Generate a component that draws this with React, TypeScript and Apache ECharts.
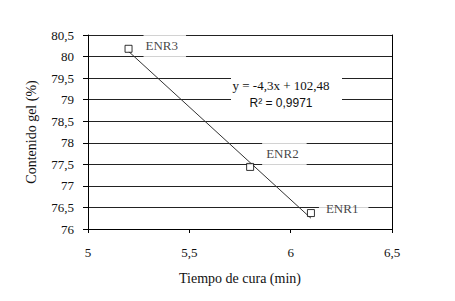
import React, { useEffect, useRef } from "react";
import * as echarts from "echarts";

const pointNames = ["ENR3", "ENR2", "ENR1"];
const cureTime = [5.2, 5.8, 6.1];
const gelContent = [80.18, 77.44, 76.37];
const trendX = [5.2, 6.1];
const trendY = [80.12, 76.25];
const equationText = "y = -4,3x + 102,48";
const r2Text = "R² = 0,9971";

const serif = "'Liberation Serif', 'Times New Roman', serif";
const comma = (v: number) => String(v).replace(".", ",");

export default function App() {
  const ref = useRef<HTMLDivElement>(null);
  useEffect(() => {
    document.body.style.margin = "0";
    const chart = echarts.init(ref.current!, null, { renderer: "svg" });
    const labelCfgs = [
      { position: "right", distance: 11, offset: [0, -3], padding: [10, 8, 9, 2] },
      { position: "right", distance: 8, offset: [0, -13], padding: [10, 8, 10, 4] },
      { position: "right", distance: 4, offset: [0, -5], padding: [4, 10, 4, 7] },
    ];
    chart.setOption({
      animation: false,
      grid: { left: 88, right: 63, top: 35, bottom: 72 },
      xAxis: {
        type: "value",
        min: 5,
        max: 6.5,
        interval: 0.5,
        name: "Tiempo de cura (min)",
        nameLocation: "middle",
        nameGap: 42,
        nameTextStyle: { fontFamily: serif, fontSize: 14, color: "#111" },
        axisLine: { show: true, lineStyle: { color: "#000", width: 1 } },
        axisTick: { show: true, length: 4, lineStyle: { color: "#000" } },
        axisLabel: { formatter: comma, fontFamily: serif, fontSize: 13, color: "#111", margin: 17 },
        splitLine: { show: false },
      },
      yAxis: [
        {
          type: "value",
          min: 76,
          max: 80.5,
          interval: 0.5,
          name: "Contenido gel (%)",
          nameLocation: "middle",
          nameGap: 50,
          nameTextStyle: { fontFamily: serif, fontSize: 14, color: "#111" },
          axisLine: { show: true, lineStyle: { color: "#000", width: 1 } },
          axisTick: { show: true, length: 5, lineStyle: { color: "#000" } },
          axisLabel: { formatter: comma, fontFamily: serif, fontSize: 13, color: "#111", margin: 14 },
          splitLine: { show: true, lineStyle: { color: "#222", width: 1 } },
        },
        {
          type: "value",
          min: 76,
          max: 80.5,
          interval: 0.5,
          position: "right",
          axisLine: { show: true, lineStyle: { color: "#000", width: 1 } },
          axisTick: { show: false },
          axisLabel: { show: false },
          splitLine: { show: false },
        },
      ],
      series: [
        {
          type: "line",
          data: trendX.map((x, i) => [x, trendY[i]]),
          symbol: "none",
          lineStyle: { color: "#333", width: 1 },
          z: 3,
        },
        {
          type: "scatter",
          symbol: "rect",
          symbolSize: 7,
          itemStyle: { color: "#fff", borderColor: "#000", borderWidth: 1 },
          z: 4,
          data: cureTime.map((x, i) => ({
            value: [x, gelContent[i]],
            name: pointNames[i],
            label: {
              show: true,
              formatter: pointNames[i],
              fontFamily: serif,
              fontSize: 13,
              color: "#111",
              backgroundColor: "#fff",
              ...labelCfgs[i],
            },
          })),
        },
      ],
      graphic: [
        {
          type: "rect",
          shape: { x: 231, y: 70, width: 111, height: 42 },
          style: { fill: "#fff" },
          z: 10,
        },
        {
          type: "text",
          x: 281,
          y: 85,
          style: { text: equationText, font: `13px ${serif}`, fill: "#111", align: "center", verticalAlign: "middle" },
          z: 11,
        },
        {
          type: "text",
          x: 281,
          y: 103,
          style: { text: r2Text, font: `12px 'Liberation Sans', Arial, sans-serif`, fill: "#111", align: "center", verticalAlign: "middle" },
          z: 11,
        },
      ],
    });
    return () => chart.dispose();
  }, []);
  return <div ref={ref} style={{ width: 455, height: 301 }} />;
}
